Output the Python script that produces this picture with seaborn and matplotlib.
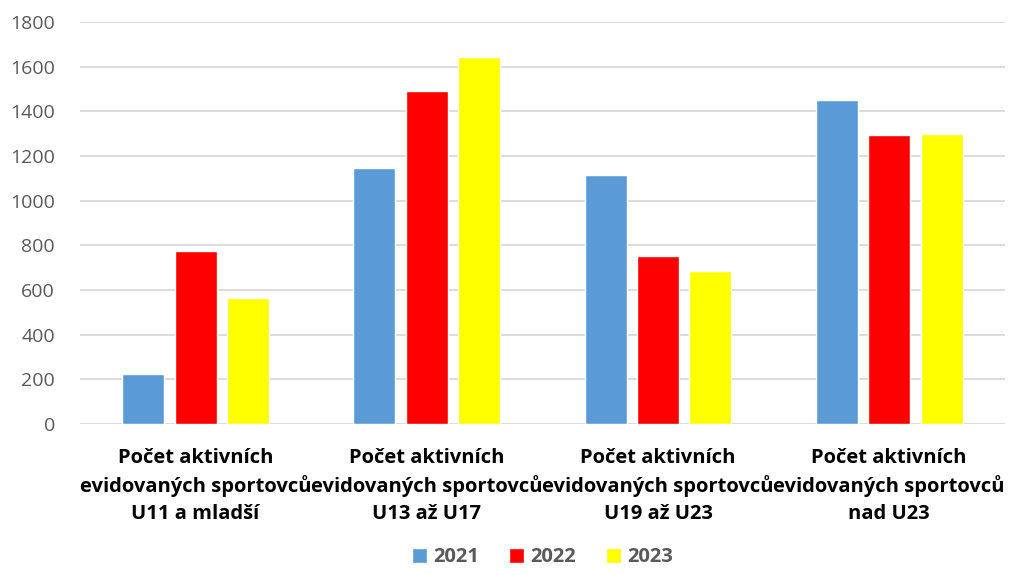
import matplotlib
matplotlib.use("Agg")
import matplotlib.pyplot as plt
import seaborn as sns
import pandas as pd

categories = [
    "Počet aktivních\nevidovaných sportovců\nU11 a mladší",
    "Počet aktivních\nevidovaných sportovců\nU13 až U17",
    "Počet aktivních\nevidovaných sportovců\nU19 až U23",
    "Počet aktivních\nevidovaných sportovců\nnad U23",
]
years = ["2021", "2022", "2023"]
v2021 = [224, 1146, 1116, 1450]
v2022 = [774, 1490, 752, 1294]
v2023 = [565, 1644, 685, 1299]
colors = ["#5b9bd5", "#ff0000", "#ffff00"]

rows = []
for year, vals in zip(years, [v2021, v2022, v2023]):
    for cat, v in zip(categories, vals):
        rows.append({"cat": cat, "year": year, "value": v})
df = pd.DataFrame(rows)

sns.set_style("white")
plt.rcParams["font.family"] = ["Open Sans", "DejaVu Sans"]

fig = plt.figure(figsize=(10.14, 5.75), dpi=100)
ax = fig.add_axes([0.0789, 0.2626, 0.912, 0.699])

sns.barplot(data=df, x="cat", y="value", hue="year", palette=colors,
            width=0.68, gap=0.2, ax=ax, saturation=1, errorbar=None,
            legend=True)

ax.set_ylim(0, 1800)
ax.set_xlim(-0.5, 3.5)
ax.set_yticks(range(0, 1801, 200))
ax.yaxis.grid(True, color="#d9d9d9", linewidth=1.3)
ax.set_axisbelow(True)
for s in ax.spines.values():
    s.set_visible(False)
ax.set_xlabel("")
ax.set_ylabel("")
ax.tick_params(axis="y", length=0, labelsize=14, labelcolor="#595959", pad=18)
ax.tick_params(axis="x", length=0, labelsize=14.5, pad=17)
for lab in ax.get_xticklabels():
    lab.set_fontweight("bold")
    lab.set_color("black")
    lab.set_linespacing(1.45)

ax.legend(loc="upper center", bbox_to_anchor=(0.5, -0.272), ncol=3,
          frameon=False, handlelength=0.75, handleheight=0.75,
          handletextpad=0.3, columnspacing=1.5, borderpad=0.2,
          prop={"weight": "bold", "size": 14.5})
for t in ax.get_legend().get_texts():
    t.set_color("#595959")

fig.savefig("out.png", dpi=100)
